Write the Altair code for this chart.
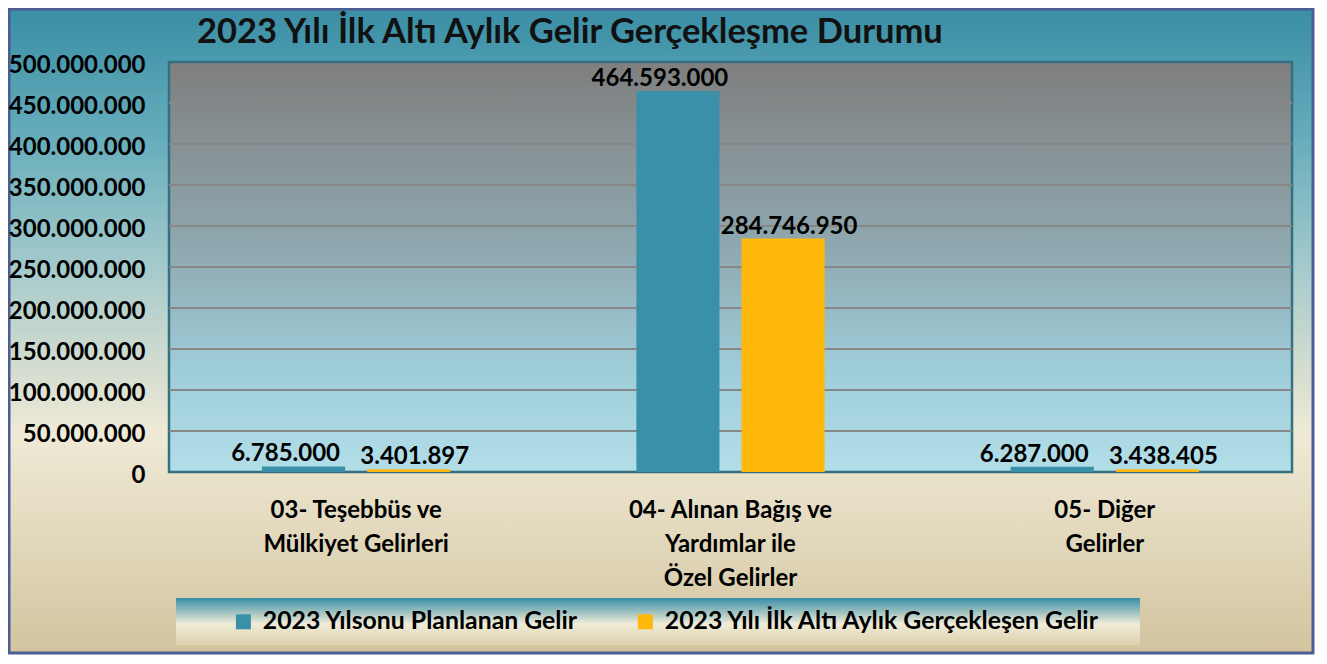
import altair as alt
import pandas as pd

TITLE = "2023 Yılı İlk Altı Aylık Gelir Gerçekleşme Durumu"
CATEGORIES = [
    "03- Teşebbüs ve|Mülkiyet Gelirleri",
    "04- Alınan Bağış ve|Yardımlar ile|Özel Gelirler",
    "05- Diğer|Gelirler",
]
SERIES = ["2023 Yılsonu Planlanan Gelir", "2023 Yılı İlk Altı Aylık Gerçekleşen Gelir"]
PLANNED = [6785000, 464593000, 6287000]
REALIZED = [3401897, 284746950, 3438405]
Y_TICKS = [0, 50000000, 100000000, 150000000, 200000000, 250000000,
           300000000, 350000000, 400000000, 450000000, 500000000]
GRID_TICKS = Y_TICKS[1:-1]
COLORS = ["#3A90A8", "#FFB80C"]

FONT = "Lato"
W, H = 1123, 410

rows = []
for c, p, r in zip(CATEGORIES, PLANNED, REALIZED):
    rows.append({"category": c, "series": SERIES[0], "value": p})
    rows.append({"category": c, "series": SERIES[1], "value": r})
df = pd.DataFrame(rows)
one = pd.DataFrame({"k": [0]})
title_df = pd.DataFrame({"t": [TITLE]})
grid_df = pd.DataFrame({"v": GRID_TICKS})

DOT_FMT = "replace(format(datum.value, ','), regexp(',', 'g'), '.')"


def grad(stops):
    return alt.LinearGradient(
        gradient="linear",
        stops=[alt.GradientStop(offset=o, color=c) for o, c in stops],
        x1=0, x2=0, y1=0, y2=1,
    )


y_scale = alt.Scale(domain=[0, 500000000], nice=False, zero=True)
Y_AXIS = alt.Axis(
    values=Y_TICKS, labelExpr=DOT_FMT, grid=False, ticks=False, domain=False,
    labelFont=FONT, labelFontSize=24, labelFontWeight="bold", labelColor="#000000",
    labelPadding=24, labelOffset=3, title=None, zindex=1,
)
X_AXIS = alt.Axis(
    labelExpr="split(datum.label, '|')", labelAngle=0, grid=False, ticks=False, domain=False,
    labelFont=FONT, labelFontSize=24, labelFontWeight="bold", labelColor="#000000",
    labelLineHeight=34, labelPadding=26, labelBaseline="top", labelLimit=0, title=None, zindex=1,
)
x_scale = alt.Scale(paddingInner=0, paddingOuter=0)
xo_scale = alt.Scale(paddingInner=0.21, paddingOuter=0.885)

outer_bg = alt.Chart(one).mark_rect(
    fill=grad([(0, "#3A8EA5"), (0.2, "#66ADBB"), (0.4, "#A4CACB"), (0.55, "#D2DCCF"),
               (0.66, "#EFEAD6"), (1, "#D3C49F")]),
    stroke="#4A5E95", strokeWidth=3,
).encode(x=alt.value(-160), x2=alt.value(1144), y=alt.value(-53), y2=alt.value(591))

title = alt.Chart(title_df).mark_text(
    font=FONT, fontSize=34.5, fontWeight="bold", color="#111111",
    align="left", baseline="alphabetic",
).encode(x=alt.value(28), y=alt.value(-19), text="t:N")

plot_bg = alt.Chart(one).mark_rect(
    fill=grad([(0, "#7F7F7F"), (0.45, "#8FA8AF"), (0.75, "#9ECDD9"), (1, "#B2DEE8")]),
    stroke="#356F80", strokeWidth=2.5,
).encode(x=alt.value(0), x2=alt.value(W), y=alt.value(0), y2=alt.value(H))

legend_bg = alt.Chart(one).mark_rect(
    fill=grad([(0, "#3A8EA5"), (0.55, "#F0ECD8"), (1, "#DCD0AD")]),
).encode(x=alt.value(7), x2=alt.value(971), y=alt.value(536), y2=alt.value(583))

grid = alt.Chart(grid_df).mark_rule(color="#878787", strokeWidth=2).encode(
    y=alt.Y("v:Q", scale=y_scale, axis=Y_AXIS)
)

bars = alt.Chart(df).mark_bar().encode(
    x=alt.X("category:N", sort=CATEGORIES, scale=x_scale, axis=X_AXIS),
    xOffset=alt.XOffset("series:N", sort=SERIES, scale=xo_scale),
    y=alt.Y("value:Q", scale=y_scale, axis=Y_AXIS),
    color=alt.Color(
        "series:N", sort=SERIES, scale=alt.Scale(domain=SERIES, range=COLORS),
        legend=alt.Legend(
            orient="none", legendX=62, legendY=547, direction="horizontal", title=None,
            symbolType="square", symbolSize=225, symbolStrokeWidth=0,
            labelFont=FONT, labelFontSize=24.8, labelFontWeight="bold", labelColor="#000000",
            columnPadding=54, labelOffset=7, padding=0, labelLimit=0,
        ),
    ),
)


def value_labels(series, dx):
    return alt.Chart(df).transform_filter(
        alt.datum.series == series
    ).transform_calculate(
        lbl="replace(format(datum.value, ','), regexp(',', 'g'), '.')"
    ).mark_text(
        font=FONT, fontSize=24, fontWeight="bold", color="#000000",
        baseline="alphabetic", dy=-5, dx=dx,
    ).encode(
        x=alt.X("category:N", sort=CATEGORIES, scale=x_scale, axis=X_AXIS),
        xOffset=alt.XOffset("series:N", sort=SERIES, scale=xo_scale),
        y=alt.Y("value:Q", scale=y_scale, axis=Y_AXIS),
        text="lbl:N",
    )


chart = alt.layer(
    outer_bg, title, plot_bg, legend_bg, grid, bars,
    value_labels(SERIES[0], -18), value_labels(SERIES[1], 6),
).properties(
    width=W, height=H,
    autosize=alt.AutoSizeParams(type="none"),
    padding={"left": 161, "top": 54, "right": 24, "bottom": 184},
).configure_view(stroke=None)

chart.save("out.html", embed_options={"renderer": "svg", "actions": False})
